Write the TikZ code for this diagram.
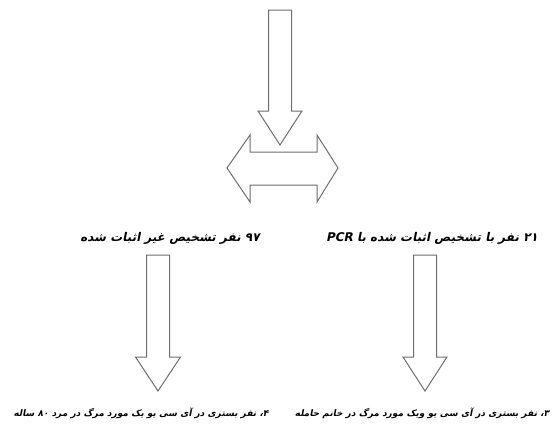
\documentclass[tikz,border=0pt]{standalone}
\usepackage{fontspec}
\newfontfamily\arabicfont[Script=Arabic,FakeSlant=0.2]{DejaVu Sans Bold}
\TeXXeTstate=1
\definecolor{ArrowClr}{RGB}{110,110,110}

\tikzset{
  blockarrow/.style={draw=ArrowClr,line width=1pt,line join=miter,fill=white},
  headtext/.style={font=\arabicfont\fontsize{12}{14}\selectfont,inner sep=0pt},
  foottext/.style={font=\arabicfont\fontsize{9}{11}\selectfont,inner sep=0pt}
}

% down block arrow: centre x, shaft half width, head half width, top, shaft end, tip
\newcommand{\DownBlock}[6]{%
  \draw[blockarrow] (#1-#2,#4) -- (#1+#2,#4) -- (#1+#2,#5) -- (#1+#3,#5)
    -- (#1,#6) -- (#1-#3,#5) -- (#1-#2,#5) -- cycle;}

\begin{document}
\begin{tikzpicture}[x=1pt,y=-1pt]
\useasboundingbox (0,0) rectangle (552,431);

% top arrow
\DownBlock{280}{11.5}{22}{10}{111}{145}

% double arrow
\coordinate (L) at (227,168);
\coordinate (R) at (338,168);
\draw[blockarrow] (L) -- (250,135) -- (250,152) -- (317,152) -- (317,135)
  -- (R) -- (317,202) -- (317,185) -- (250,185) -- (250,202) -- cycle;

% headers
\node[headtext] (left) at (170,238)
  {\beginR ۹۷ نفر تشخیص غیر اثبات شده\endR};
\node[headtext] (right) at (432,238)
  {\beginR ۲۱ نفر با تشخیص اثبات شده با \beginL PCR\endL\endR};

% down arrows
\DownBlock{158}{11.5}{22.5}{255}{357}{391}
\DownBlock{425}{11.5}{22}{255}{357}{391}

% results
\node[foottext] (leftres) at (141,413)
  {\beginR ۴، نفر بستری در آی سی یو یک مورد مرگ در مرد ۸۰ ساله\endR};
\node[foottext] (rightres) at (422,413)
  {\beginR ۳، نفر بستری در آی سی یو  ویک مورد مرگ در خانم حامله\endR};

\end{tikzpicture}
\end{document}
